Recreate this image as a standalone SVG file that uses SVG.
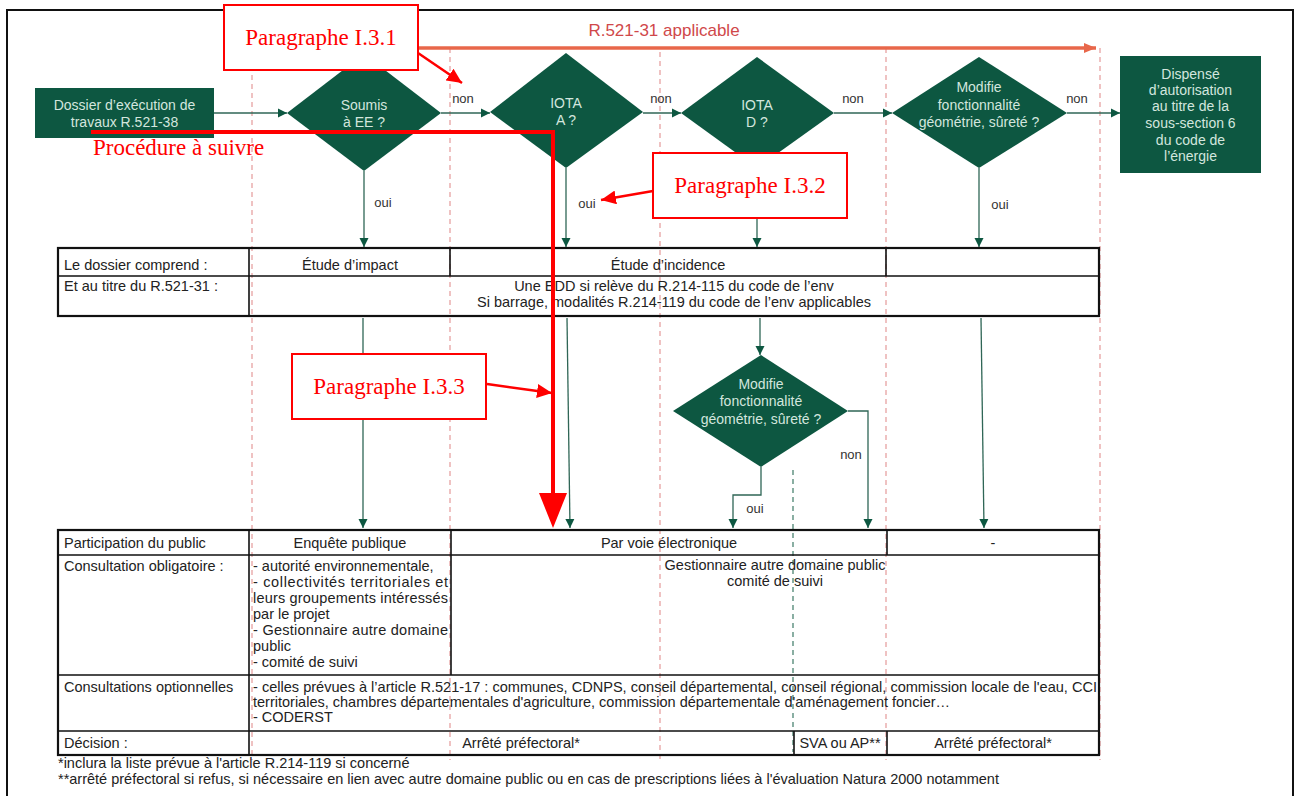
<svg xmlns="http://www.w3.org/2000/svg" width="1295" height="796" viewBox="0 0 1295 796">
<defs>
<style>
.nt{font-family:"Liberation Sans",Arial,sans-serif;font-size:14px;fill:#d3e6de;text-anchor:middle}
.lb{font-family:"Liberation Sans",Arial,sans-serif;font-size:13px;fill:#333;text-anchor:middle}
.tt{font-family:"Liberation Sans",Arial,sans-serif;font-size:14.5px;fill:#222}
.tc{text-anchor:middle}
.fn{font-family:"Liberation Sans",Arial,sans-serif;font-size:14.5px;fill:#222}
.node{fill:#0d5741}
.con{fill:none;stroke:#2f6656;stroke-width:1.3}
.dash{stroke:#e59a9a;stroke-width:1.2;stroke-dasharray:5 4;fill:none}
.gdash{stroke:#3d7a66;stroke-width:1.2;stroke-dasharray:5 4;fill:none}
.tb{fill:none;stroke:#111;stroke-width:2.2}
.tl{fill:none;stroke:#111;stroke-width:1.6}
.rbox{fill:#fff;stroke:#ff0000;stroke-width:2}
.rt{font-family:"Liberation Serif","Times New Roman",serif;font-size:23px;fill:#ff0000;text-anchor:middle}
.rarr{fill:none;stroke:#ff0000;stroke-width:2.5}
</style>
<marker id="ag" markerUnits="userSpaceOnUse" markerWidth="10" markerHeight="10" refX="9" refY="5" orient="auto">
<path d="M0,0.5 L9,5 L0,9.5 z" fill="#0d5741"/>
</marker>
<marker id="ar" markerUnits="userSpaceOnUse" markerWidth="16" markerHeight="14" refX="15" refY="7" orient="auto">
<path d="M0,0 L15,7 L0,14 z" fill="#ff0000"/>
</marker>
<marker id="ao" markerUnits="userSpaceOnUse" markerWidth="14" markerHeight="12" refX="12" refY="6" orient="auto">
<path d="M0,1 L12,6 L0,11 z" fill="#e8674a"/>
</marker>
</defs>
<rect x="0" y="0" width="1295" height="796" fill="#fff"/>
<rect x="7" y="10" width="1286" height="800" fill="none" stroke="#111" stroke-width="2"/>

<g id="lanes">
<path class="dash" d="M252,48 V760 M450,48 V760 M660,52 V760 M886,48 V760 M1100,48 V760"/>
<path class="gdash" d="M793,470 V752"/>
</g>

<g id="scope">
<text x="664" y="36" font-family="Liberation Sans,Arial,sans-serif" font-size="17" fill="#d0484a" text-anchor="middle">R.521-31 applicable</text>
<path d="M400,48 H1096" stroke="#e8674a" stroke-width="3.5" fill="none" marker-end="url(#ao)"/>
</g>

<g id="connectors">
<path class="con" d="M214,113 H287" marker-end="url(#ag)"/>
<path class="con" d="M441,113 H490" marker-end="url(#ag)"/>
<path class="con" d="M643,113 H681" marker-end="url(#ag)"/>
<path class="con" d="M834,113 H892" marker-end="url(#ag)"/>
<path class="con" d="M1067,113 H1120" marker-end="url(#ag)"/>
<path class="con" d="M364,171 V247" marker-end="url(#ag)"/>
<path class="con" d="M566,168 V247" marker-end="url(#ag)"/>
<path class="con" d="M757,168 V247" marker-end="url(#ag)"/>
<path class="con" d="M979,168 V247" marker-end="url(#ag)"/>
<path class="con" d="M363,318 V528" marker-end="url(#ag)"/>
<path class="con" d="M567,318 L570,528" marker-end="url(#ag)"/>
<path class="con" d="M760,318 V355" marker-end="url(#ag)"/>
<path class="con" d="M981,318 L984,528" marker-end="url(#ag)"/>
<path class="con" d="M848,411 H868 V528" marker-end="url(#ag)"/>
<path class="con" d="M761,467 V495 H733 V528" marker-end="url(#ag)"/>
<text class="lb" x="463" y="103">non</text>
<text class="lb" x="661" y="103">non</text>
<text class="lb" x="853" y="103">non</text>
<text class="lb" x="1077" y="103">non</text>
<text class="lb" x="383" y="207">oui</text>
<text class="lb" x="587" y="208">oui</text>
<text class="lb" x="1000" y="209">oui</text>
<text class="lb" x="851" y="459">non</text>
<text class="lb" x="755" y="513">oui</text>
</g>

<g id="start">
<rect class="node" x="35" y="88" width="179" height="50"/>
<text class="nt" x="124.5" y="110">Dossier d’exécution de</text>
<text class="nt" x="124.5" y="127">travaux R.521-38</text>
</g>

<g id="d-ee">
<polygon class="node" points="364,54 441,113 364,171 287,113"/>
<text class="nt" x="364" y="110">Soumis</text>
<text class="nt" x="364" y="127">à EE ?</text>
</g>

<g id="d-iota-a">
<polygon class="node" points="566,53 643,112 566,168 490,112"/>
<text class="nt" x="566" y="108">IOTA</text>
<text class="nt" x="566" y="125">A ?</text>
</g>

<g id="d-iota-d">
<polygon class="node" points="757,57 834,113 757,168 681,113"/>
<text class="nt" x="757" y="110">IOTA</text>
<text class="nt" x="757" y="127">D ?</text>
</g>

<g id="d-modif">
<polygon class="node" points="979,57 1067,113 979,168 892,113"/>
<text class="nt" x="979" y="92">Modifie</text>
<text class="nt" x="979" y="110">fonctionnalité</text>
<text class="nt" x="979" y="127">géométrie, sûreté ?</text>
</g>

<g id="end">
<rect class="node" x="1120" y="56" width="141" height="117"/>
<text class="nt" x="1190.5" y="79">Dispensé</text>
<text class="nt" x="1190.5" y="95">d’autorisation</text>
<text class="nt" x="1190.5" y="111">au titre de la</text>
<text class="nt" x="1190.5" y="128">sous-section 6</text>
<text class="nt" x="1190.5" y="145">du code de</text>
<text class="nt" x="1190.5" y="161">l’énergie</text>
</g>

<g id="d-modif2">
<polygon class="node" points="761,355 848,411 761,467 673,411"/>
<text class="nt" x="761" y="389">Modifie</text>
<text class="nt" x="761" y="406">fonctionnalité</text>
<text class="nt" x="761" y="424">géométrie, sûreté ?</text>
</g>

<g id="table-dossier">
<rect class="tb" x="58" y="248" width="1041" height="68"/>
<path class="tl" d="M58,276 H1099 M249,248 V316 M450,248 V276 M886,248 V276"/>
<text class="tt" x="64" y="270">Le dossier comprend :</text>
<text class="tt tc" x="350" y="270">Étude d’impact</text>
<text class="tt tc" x="668" y="270">Étude d’incidence</text>
<text class="tt" x="64" y="291">Et au titre du R.521-31 :</text>
<text class="tt tc" x="674" y="291">Une EDD si relève du R.214-115 du code de l’env</text>
<text class="tt tc" x="674" y="307">Si barrage, modalités R.214-119 du code de l’env applicables</text>
</g>

<g id="table-procedure">
<rect class="tb" x="58" y="530" width="1041" height="225"/>
<path class="tl" d="M58,555 H1099 M58,675 H1099 M58,731 H1099 M249,530 V755 M451,530 V675 M887,530 V555 M794,731 V755 M887,731 V755"/>
<text class="tt" x="64" y="548">Participation du public</text>
<text class="tt tc" x="350" y="548">Enquête publique</text>
<text class="tt tc" x="669" y="548">Par voie électronique</text>
<text class="tt tc" x="993" y="548">-</text>
<text class="tt" x="64" y="571">Consultation obligatoire :</text>
<text class="tt" x="253" y="571">- autorité environnementale,</text>
<text class="tt" x="253" y="587" textLength="195" lengthAdjust="spacing">- collectivités territoriales et</text>
<text class="tt" x="253" y="603" textLength="195" lengthAdjust="spacing">leurs groupements intéressés</text>
<text class="tt" x="253" y="619">par le projet</text>
<text class="tt" x="253" y="635" textLength="195" lengthAdjust="spacing">- Gestionnaire autre domaine</text>
<text class="tt" x="253" y="651">public</text>
<text class="tt" x="253" y="667">- comité de suivi</text>
<text class="tt tc" x="775" y="570">Gestionnaire autre domaine public</text>
<text class="tt tc" x="775" y="586">comité de suivi</text>
<text class="tt" x="64" y="692">Consultations optionnelles</text>
<text class="tt" x="253" y="692" textLength="844" lengthAdjust="spacingAndGlyphs">- celles prévues à l’article R.521-17 : communes, CDNPS, conseil départemental, conseil régional, commission locale de l'eau, CCI</text>
<text class="tt" x="253" y="707">territoriales, chambres départementales d'agriculture, commission départementale d'aménagement foncier…</text>
<text class="tt" x="253" y="722">- CODERST</text>
<text class="tt" x="64" y="748">Décision :</text>
<text class="tt tc" x="521" y="748">Arrêté préfectoral*</text>
<text class="tt tc" x="840" y="748">SVA ou AP**</text>
<text class="tt tc" x="993" y="748">Arrêté préfectoral*</text>
</g>

<g id="footnotes">
<text class="fn" x="58" y="768">*inclura la liste prévue à l'article R.214-119 si concerné</text>
<text class="fn" x="58" y="784">**arrêté préfectoral si refus, si nécessaire en lien avec autre domaine public ou en cas de prescriptions liées à l'évaluation Natura 2000 notamment</text>
</g>

<g id="procedure-path">
<path d="M91,132 H553 V495" fill="none" stroke="#ff0000" stroke-width="4"/>
<polygon points="539,493 567,493 553,528" fill="#ff0000"/>
<text class="rt" x="93" y="155" style="text-anchor:start">Procédure à suivre</text>
</g>

<g id="para-131">
<rect class="rbox" x="224" y="5" width="194" height="65"/>
<text class="rt" x="321" y="45">Paragraphe I.3.1</text>
<path class="rarr" d="M418,53 L462,83" marker-end="url(#ar)"/>
</g>

<g id="para-132">
<rect class="rbox" x="653" y="153" width="194" height="65"/>
<text class="rt" x="750" y="193">Paragraphe I.3.2</text>
<path class="rarr" d="M653,191 L601,200" marker-end="url(#ar)"/>
</g>

<g id="para-133">
<rect class="rbox" x="292" y="354" width="194" height="65"/>
<text class="rt" x="389" y="394">Paragraphe I.3.3</text>
<path class="rarr" d="M487,384 L552,393" marker-end="url(#ar)"/>
</g>
</svg>
